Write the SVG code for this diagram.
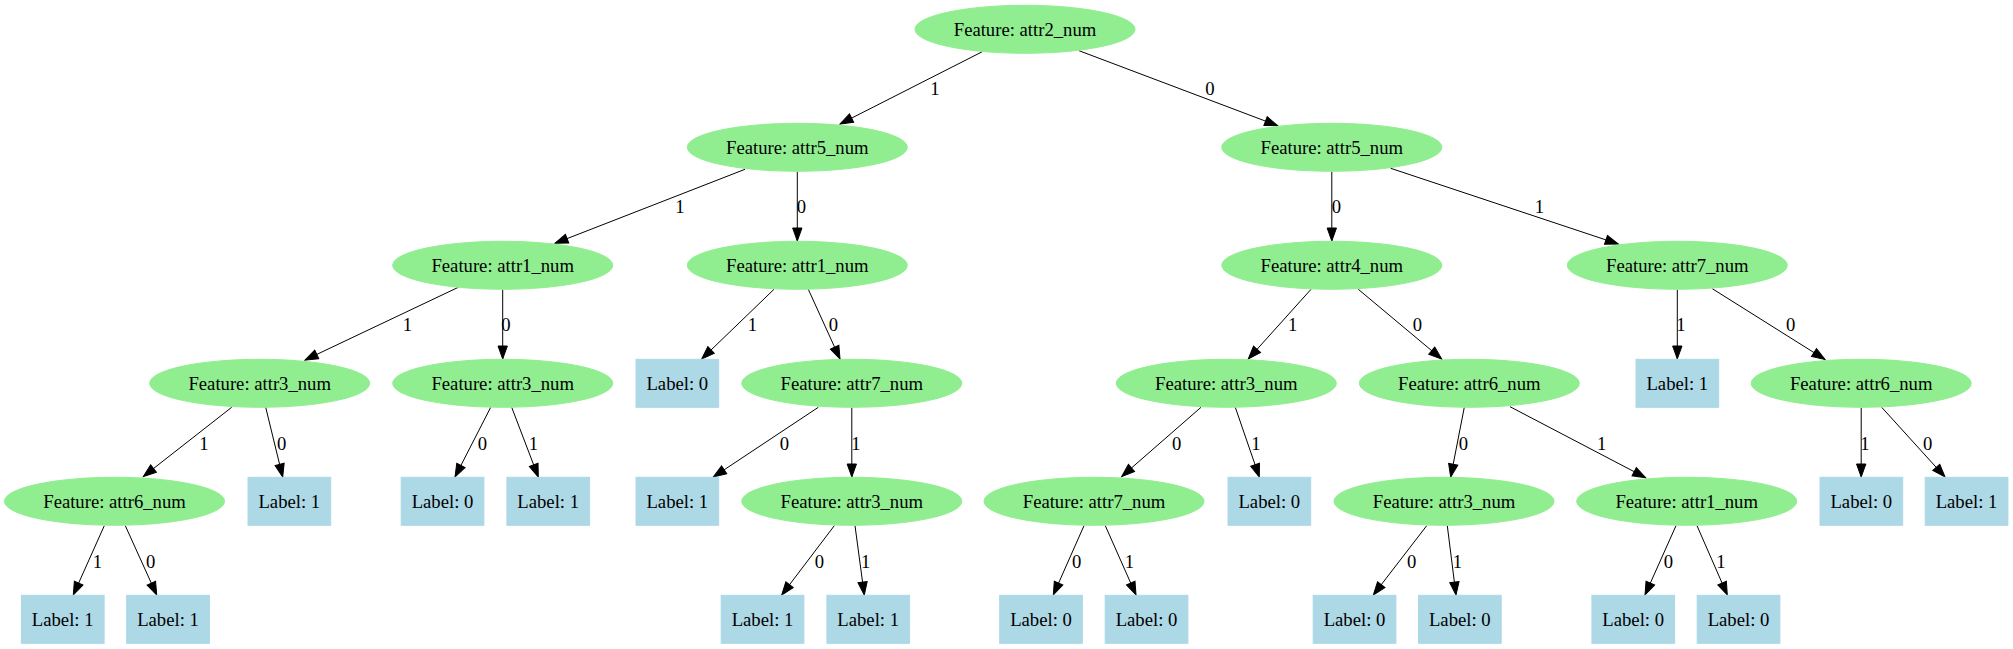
<svg xmlns="http://www.w3.org/2000/svg" width="2013" height="649" viewBox="0 0 2013 649">
<defs>
<style>
.f ellipse{fill:#90ee90;stroke:#90ee90}
.l rect{fill:#add8e6;stroke:#add8e6}
text{font-family:"Liberation Serif","Times New Roman",serif;font-size:18.67px;fill:#000}
.n text{text-anchor:middle}
#edges line{stroke:#000;stroke-width:1;marker-end:url(#arr)}
#edges text{text-anchor:middle}
</style>
<marker id="arr" markerUnits="userSpaceOnUse" markerWidth="16" markerHeight="12" refX="14" refY="5.67" orient="auto">
<path d="M1,1 L14,5.67 L1,10.33 z" fill="#000" stroke="#000" stroke-width="1"/>
</marker>
</defs>
<rect width="2013" height="649" fill="#fff"/>
<g id="edges">
<line x1="982.3" y1="51.7" x2="840" y2="124"/><text x="935" y="95">1</text>
<line x1="1079" y1="50.7" x2="1277.7" y2="125.7"/><text x="1210" y="95">0</text>
<line x1="745" y1="169.3" x2="555" y2="243.3"/><text x="680" y="213">1</text>
<line x1="797.3" y1="171.7" x2="797.3" y2="241"/><text x="801.3" y="213">0</text>
<line x1="1331.8" y1="171.7" x2="1331.8" y2="241"/><text x="1336.5" y="213">0</text>
<line x1="1390.7" y1="168.3" x2="1618.3" y2="244"/><text x="1539.3" y="213">1</text>
<line x1="458.3" y1="287.3" x2="305" y2="360"/><text x="407.3" y="331">1</text>
<line x1="502.7" y1="289.7" x2="502.7" y2="359"/><text x="506" y="331">0</text>
<line x1="774" y1="289.3" x2="701.7" y2="359"/><text x="752.3" y="331">1</text>
<line x1="808.3" y1="289.3" x2="840" y2="359"/><text x="833.3" y="331">0</text>
<line x1="1311" y1="289.3" x2="1248.3" y2="359"/><text x="1292.7" y="331">1</text>
<line x1="1358.3" y1="289.3" x2="1441.7" y2="359"/><text x="1417.3" y="331">0</text>
<line x1="1677.3" y1="289.7" x2="1677.3" y2="359"/><text x="1681" y="331">1</text>
<line x1="1712.3" y1="288.7" x2="1825" y2="359.5"/><text x="1790.7" y="331">0</text>
<line x1="231.7" y1="407.3" x2="143.3" y2="476.5"/><text x="204" y="449.5">1</text>
<line x1="265.7" y1="407.3" x2="282.7" y2="477"/><text x="281.7" y="449.5">0</text>
<line x1="490.7" y1="407.3" x2="455" y2="477"/><text x="482.3" y="449.5">0</text>
<line x1="511.7" y1="407.3" x2="538.3" y2="477"/><text x="533.3" y="449.5">1</text>
<line x1="818.3" y1="407.3" x2="713.3" y2="477"/><text x="784.3" y="449.5">0</text>
<line x1="851.8" y1="407.7" x2="851.8" y2="477"/><text x="856" y="449.5">1</text>
<line x1="1201" y1="407.3" x2="1121.7" y2="476.5"/><text x="1176.7" y="449.5">0</text>
<line x1="1235.3" y1="407.3" x2="1259.3" y2="477"/><text x="1256" y="449.5">1</text>
<line x1="1464.3" y1="407.3" x2="1450.7" y2="477"/><text x="1463.3" y="449.5">0</text>
<line x1="1510" y1="406.7" x2="1645.7" y2="477.7"/><text x="1601.7" y="449.5">1</text>
<line x1="1861.2" y1="407.7" x2="1861.2" y2="477"/><text x="1865" y="449.5">1</text>
<line x1="1881.7" y1="407.3" x2="1945" y2="477"/><text x="1927.7" y="449.5">0</text>
<line x1="104.3" y1="525.7" x2="73.3" y2="595"/><text x="97.3" y="567.5">1</text>
<line x1="125.3" y1="525.7" x2="156.7" y2="595"/><text x="150.7" y="567.5">0</text>
<line x1="834.3" y1="525.7" x2="781.7" y2="595"/><text x="819.3" y="567.5">0</text>
<line x1="855" y1="525.7" x2="864.3" y2="595"/><text x="865.7" y="567.5">1</text>
<line x1="1084" y1="525.7" x2="1053.3" y2="595"/><text x="1076.7" y="567.5">0</text>
<line x1="1105.3" y1="525.7" x2="1136" y2="595"/><text x="1129.3" y="567.5">1</text>
<line x1="1426.7" y1="525.7" x2="1373.3" y2="595"/><text x="1411.7" y="567.5">0</text>
<line x1="1447.3" y1="525.7" x2="1456" y2="595"/><text x="1457.3" y="567.5">1</text>
<line x1="1676" y1="525.7" x2="1645" y2="595"/><text x="1668.3" y="567.5">0</text>
<line x1="1697" y1="525.7" x2="1727.3" y2="595"/><text x="1721" y="567.5">1</text>
</g>
<g id="n0" class="n f"><ellipse cx="1025" cy="29.3" rx="110" ry="24"/><text x="1025" y="35.8">Feature: attr2_num</text></g>
<g id="n1" class="n f"><ellipse cx="797.3" cy="147.3" rx="110" ry="24"/><text x="797.3" y="153.8">Feature: attr5_num</text></g>
<g id="n2" class="n f"><ellipse cx="1331.8" cy="147.3" rx="110" ry="24"/><text x="1331.8" y="153.8">Feature: attr5_num</text></g>
<g id="n3" class="n f"><ellipse cx="502.7" cy="265.3" rx="110" ry="24"/><text x="502.7" y="271.8">Feature: attr1_num</text></g>
<g id="n4" class="n f"><ellipse cx="797.3" cy="265.3" rx="110" ry="24"/><text x="797.3" y="271.8">Feature: attr1_num</text></g>
<g id="n5" class="n f"><ellipse cx="1331.8" cy="265.3" rx="110" ry="24"/><text x="1331.8" y="271.8">Feature: attr4_num</text></g>
<g id="n6" class="n f"><ellipse cx="1677.3" cy="265.3" rx="110" ry="24"/><text x="1677.3" y="271.8">Feature: attr7_num</text></g>
<g id="n7" class="n f"><ellipse cx="259.7" cy="383.3" rx="110" ry="24"/><text x="259.7" y="389.8">Feature: attr3_num</text></g>
<g id="n8" class="n f"><ellipse cx="502.7" cy="383.3" rx="110" ry="24"/><text x="502.7" y="389.8">Feature: attr3_num</text></g>
<g id="n9" class="n l"><rect x="636" y="359.3" width="82.7" height="48"/><text x="677.3" y="389.8">Label: 0</text></g>
<g id="n10" class="n f"><ellipse cx="851.8" cy="383.3" rx="110" ry="24"/><text x="851.8" y="389.8">Feature: attr7_num</text></g>
<g id="n11" class="n f"><ellipse cx="1226.3" cy="383.3" rx="110" ry="24"/><text x="1226.3" y="389.8">Feature: attr3_num</text></g>
<g id="n12" class="n f"><ellipse cx="1469.3" cy="383.3" rx="110" ry="24"/><text x="1469.3" y="389.8">Feature: attr6_num</text></g>
<g id="n13" class="n l"><rect x="1636" y="359.3" width="82.7" height="48"/><text x="1677.3" y="389.8">Label: 1</text></g>
<g id="n14" class="n f"><ellipse cx="1861.2" cy="383.3" rx="110" ry="24"/><text x="1861.2" y="389.8">Feature: attr6_num</text></g>
<g id="n15" class="n f"><ellipse cx="114.5" cy="501.3" rx="110" ry="24"/><text x="114.5" y="507.8">Feature: attr6_num</text></g>
<g id="n16" class="n l"><rect x="248" y="477.3" width="82.7" height="48"/><text x="289.3" y="507.8">Label: 1</text></g>
<g id="n17" class="n l"><rect x="401.2" y="477.3" width="82.7" height="48"/><text x="442.5" y="507.8">Label: 0</text></g>
<g id="n18" class="n l"><rect x="506.9" y="477.3" width="82.7" height="48"/><text x="548.2" y="507.8">Label: 1</text></g>
<g id="n19" class="n l"><rect x="636" y="477.3" width="82.7" height="48"/><text x="677.3" y="507.8">Label: 1</text></g>
<g id="n20" class="n f"><ellipse cx="851.8" cy="501.3" rx="110" ry="24"/><text x="851.8" y="507.8">Feature: attr3_num</text></g>
<g id="n21" class="n f"><ellipse cx="1094" cy="501.3" rx="110" ry="24"/><text x="1094" y="507.8">Feature: attr7_num</text></g>
<g id="n22" class="n l"><rect x="1228" y="477.3" width="82.7" height="48"/><text x="1269.3" y="507.8">Label: 0</text></g>
<g id="n23" class="n f"><ellipse cx="1444" cy="501.3" rx="110" ry="24"/><text x="1444" y="507.8">Feature: attr3_num</text></g>
<g id="n24" class="n f"><ellipse cx="1686.7" cy="501.3" rx="110" ry="24"/><text x="1686.7" y="507.8">Feature: attr1_num</text></g>
<g id="n25" class="n l"><rect x="1820" y="477.3" width="82.7" height="48"/><text x="1861.3" y="507.8">Label: 0</text></g>
<g id="n26" class="n l"><rect x="1925.2" y="477.3" width="82.7" height="48"/><text x="1966.5" y="507.8">Label: 1</text></g>
<g id="n27" class="n l"><rect x="21.4" y="595.3" width="82.7" height="48"/><text x="62.7" y="625.8">Label: 1</text></g>
<g id="n28" class="n l"><rect x="126.7" y="595.3" width="82.7" height="48"/><text x="168" y="625.8">Label: 1</text></g>
<g id="n29" class="n l"><rect x="721.2" y="595.3" width="82.7" height="48"/><text x="762.5" y="625.8">Label: 1</text></g>
<g id="n30" class="n l"><rect x="826.9" y="595.3" width="82.7" height="48"/><text x="868.2" y="625.8">Label: 1</text></g>
<g id="n31" class="n l"><rect x="999.7" y="595.3" width="82.7" height="48"/><text x="1041" y="625.8">Label: 0</text></g>
<g id="n32" class="n l"><rect x="1105.2" y="595.3" width="82.7" height="48"/><text x="1146.5" y="625.8">Label: 0</text></g>
<g id="n33" class="n l"><rect x="1313.2" y="595.3" width="82.7" height="48"/><text x="1354.5" y="625.8">Label: 0</text></g>
<g id="n34" class="n l"><rect x="1418.5" y="595.3" width="82.7" height="48"/><text x="1459.8" y="625.8">Label: 0</text></g>
<g id="n35" class="n l"><rect x="1591.9" y="595.3" width="82.7" height="48"/><text x="1633.2" y="625.8">Label: 0</text></g>
<g id="n36" class="n l"><rect x="1697.2" y="595.3" width="82.7" height="48"/><text x="1738.5" y="625.8">Label: 0</text></g>
</svg>
